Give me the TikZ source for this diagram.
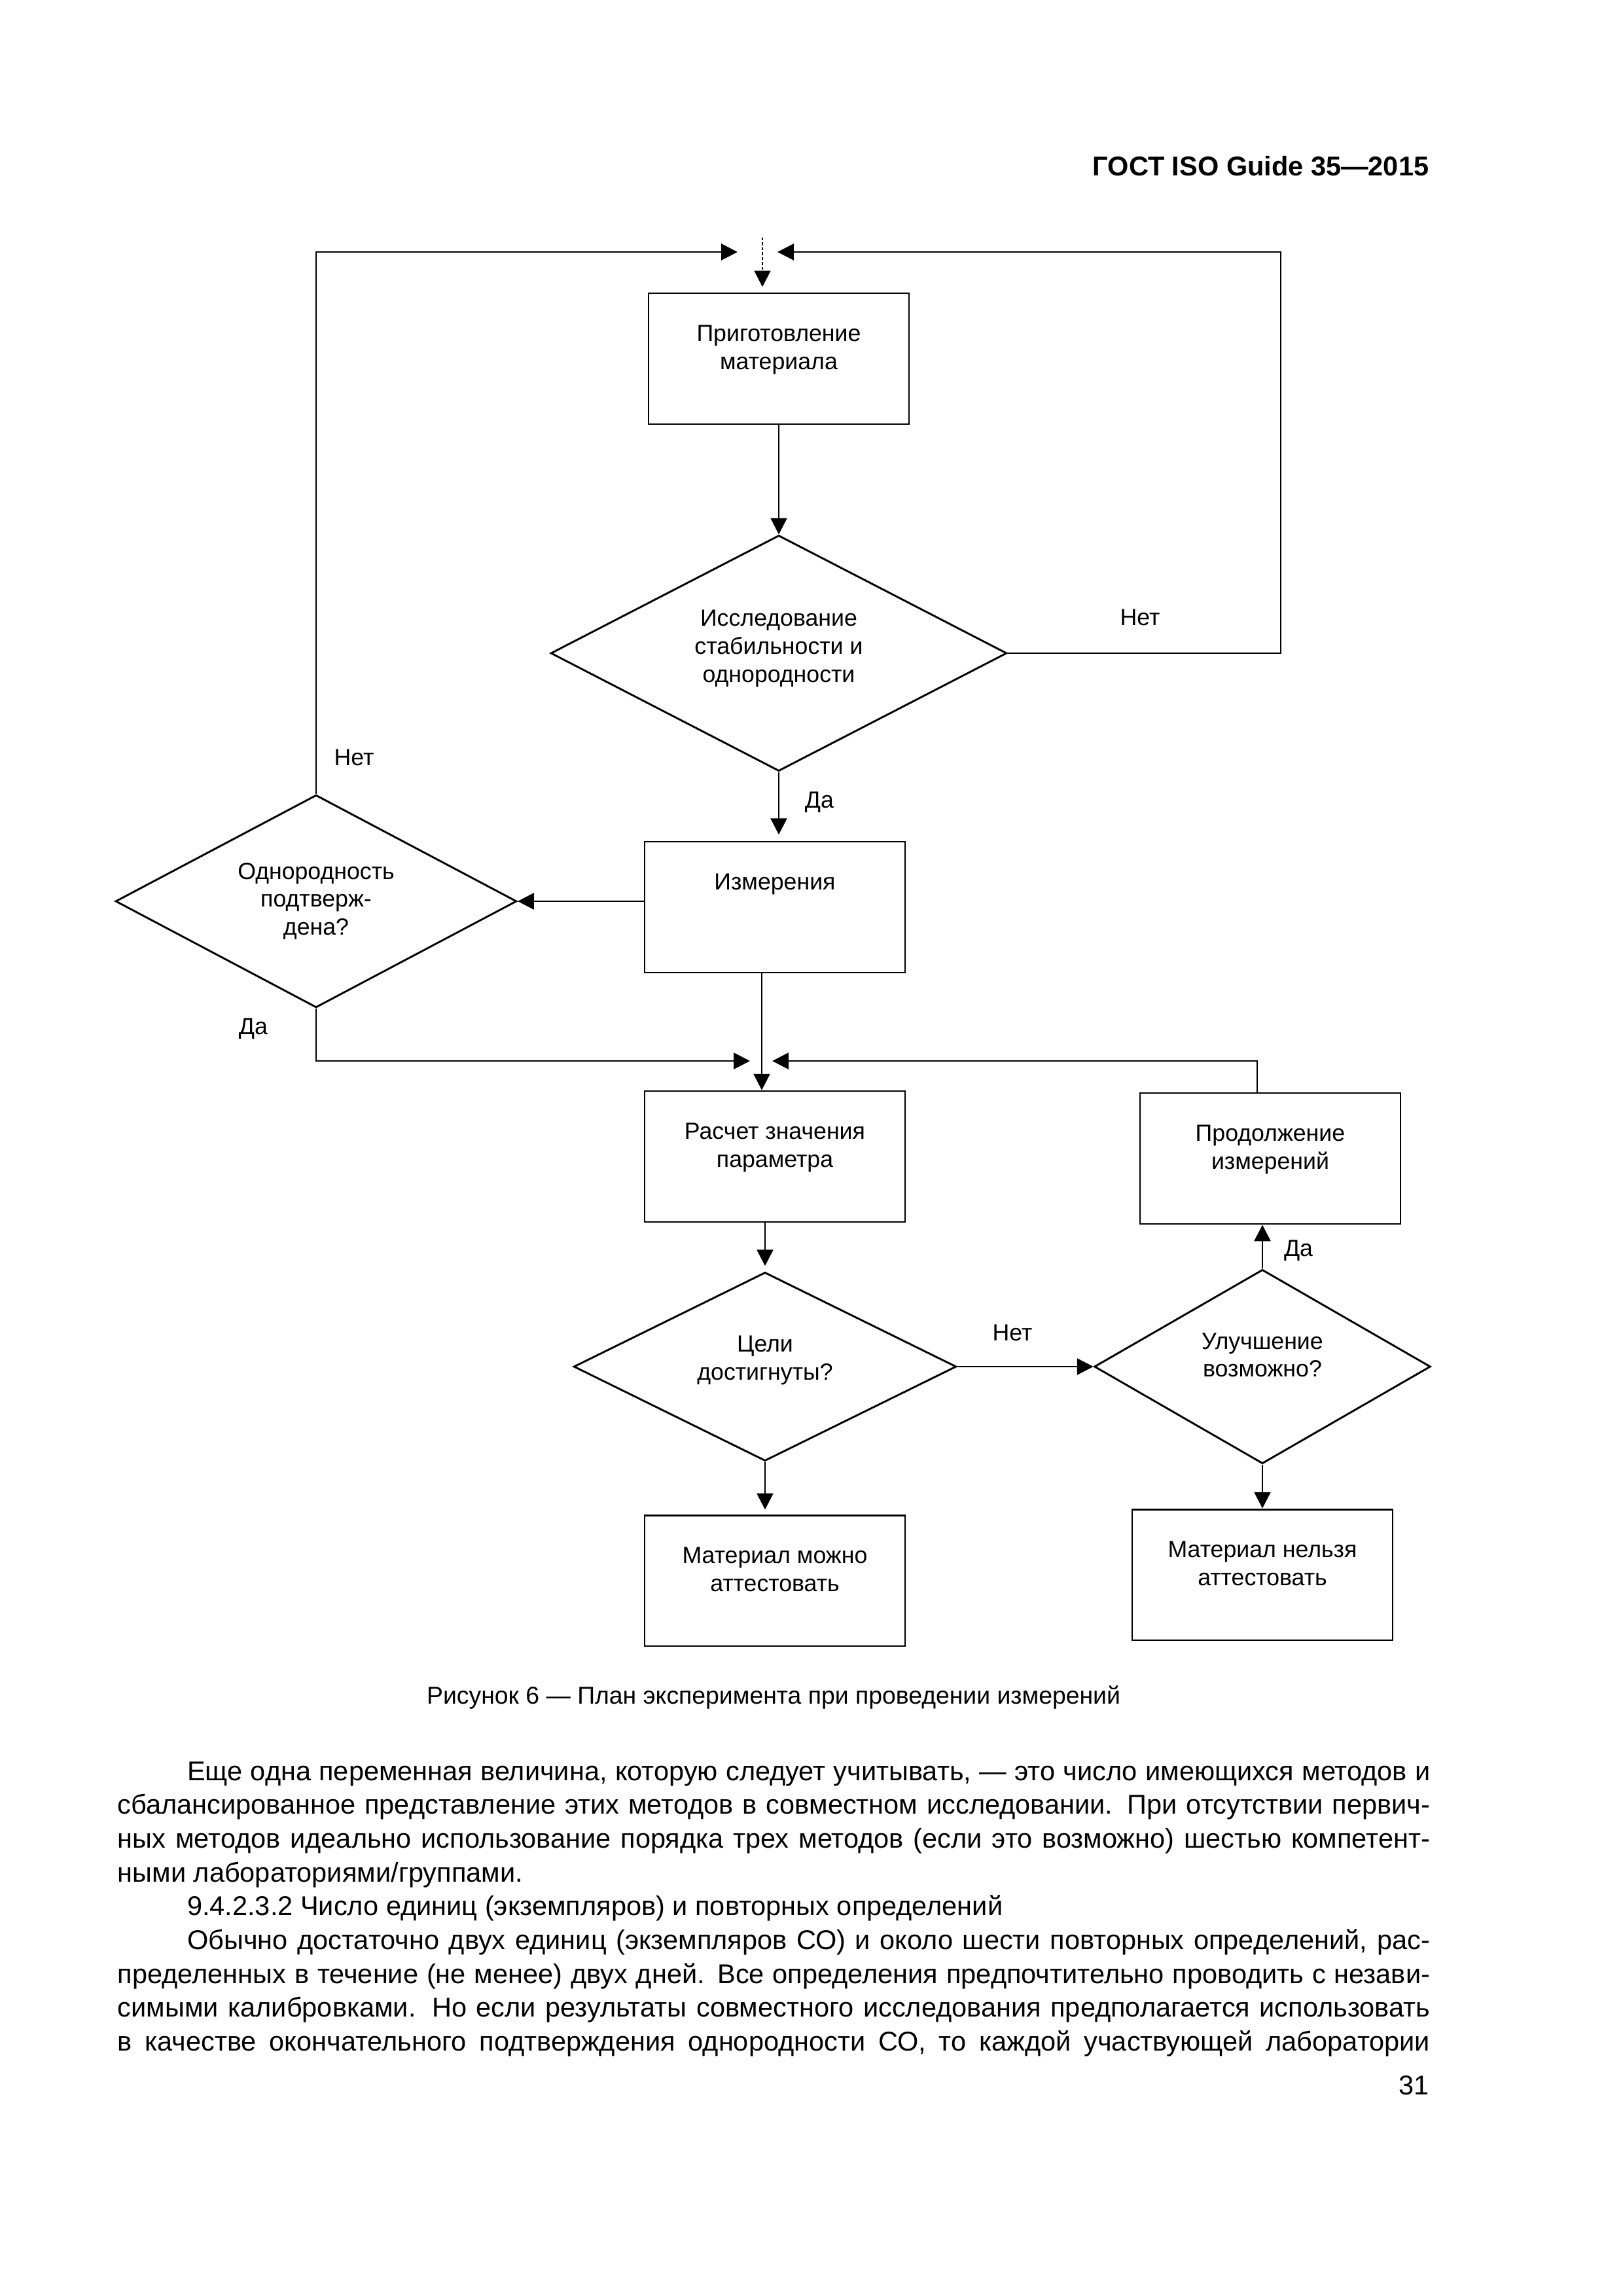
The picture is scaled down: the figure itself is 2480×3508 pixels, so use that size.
\documentclass[tikz,border=0pt]{standalone}
\usepackage{fontspec}
\setmainfont{Liberation Sans}
\usetikzlibrary{arrows.meta,shapes.geometric}

\newlength\boxw \setlength\boxw{33.7mm}
\newlength\boxh \setlength\boxh{16.93mm}
\newlength\bodyw \setlength\bodyw{169.8mm}
\newcommand\boxfont{\fontsize{8.6}{10.3}\selectfont}
\newcommand\bodyfont{\fontsize{10}{12.45}\selectfont}
\newcommand\boxtxt[1]{\parbox[c][\boxh][t]{\boxw}{\centering\rule{0pt}{6.2mm}#1}}

\tikzset{
  arr/.style={line width=0.7pt, -{Triangle[length=2.1mm,width=2.1mm]}},
  stepbox/.style={draw, line width=0.7pt, inner sep=0pt, minimum width=\boxw, minimum height=\boxh, font=\boxfont},
  decision/.style={draw, diamond, aspect=2, line width=0.7pt, inner sep=0pt},
  dtext/.style={font=\boxfont, align=center, inner sep=0pt},
  lbl/.style={font=\boxfont, inner sep=0pt},
}

\begin{document}
\begin{tikzpicture}[x=0.0846667mm, y=-0.0846667mm]
            \useasboundingbox (0,0) rectangle (2480,3508);
            % Page header
            \node[anchor=base east, inner sep=0pt, font=\bfseries\fontsize{10}{12}\selectfont] (head) at (2184,268) {ГОСТ ISO Guide 35—2015};
            % Boxes
            \node[stepbox] (prep) at (1190,548) {\boxtxt{Приготовление\\материала}};
            \node[stepbox] (meas) at (1184,1386) {\boxtxt{Измерения}};
            \node[stepbox] (calc) at (1184,1767) {\boxtxt{Расчет значения\\параметра}};
            \node[stepbox] (cont) at (1941,1770) {\boxtxt{Продолжение\\измерений}};
            \node[stepbox] (yes) at (1184,2415) {\boxtxt{Материал можно\\аттестовать}};
            \node[stepbox] (no) at (1929,2406) {\boxtxt{Материал нельзя\\аттестовать}};
            % Decisions
            \node[decision, minimum width=59mm, minimum height=30.5mm,
              label={[dtext, yshift=0.6mm]center:Исследование\\стабильности и\\однородности}] (study) at (1190,998) {};
            \node[decision, minimum width=51.9mm, minimum height=27.5mm,
              label={[dtext]center:Однородность\\подтверж-\\дена?}] (homog) at (483,1377) {};
            \node[decision, minimum width=49.5mm, minimum height=24.4mm,
              label={[dtext, yshift=0.8mm]center:Цели\\достигнуты?}] (goal) at (1169,2088) {};
            \node[decision, minimum width=43.5mm, minimum height=25.1mm,
              label={[dtext, yshift=1.5mm]center:Улучшение\\возможно?}] (impr) at (1929,2088) {};
            % Free ends of the loops
            \coordinate (entry) at (1165,363);
            \coordinate (joinL) at (1127,385);
            \coordinate (joinR) at (1188,385);
            \coordinate (turnR) at (1957,385);
            \coordinate (joinL2) at (1146,1621);
            \coordinate (joinR2) at (1180,1621);
            \coordinate (turnR2) at (1921,1621);
            \coordinate (mid2) at (1164,1621);
            % Connectors
            \draw[arr, dash pattern=on 1pt off 0.8pt, shorten >=0.7mm] (entry) -- (entry |- prep.north);
            \draw[arr] (homog.north) |- (joinL);
            \draw[arr] (study.east) -| (turnR) -- (joinR);
            \draw[arr] (prep.south) -- (study.north);
            \draw[arr, shorten >=0.8mm] (study.south) -- (study.south |- meas.north);
            \draw[arr] (meas.west |- homog.east) -- (homog.east);
            \draw[arr] (homog.south) |- (joinL2);
            \draw[arr] (cont.north -| turnR2) -- (turnR2) -- (joinR2);
            \draw[arr] (meas.south -| mid2) -- (calc.north -| mid2);
            \draw[arr, shorten >=0.7mm] (calc.south -| goal.north) -- (goal.north);
            \draw[arr, shorten >=0.6mm] (goal.south) -- (goal.south |- yes.north);
            \draw[arr] (goal.east) -- (impr.west);
            \draw[arr] (impr.north) -- (impr.north |- cont.south);
            \draw[arr] (impr.south) -- (no.north);
            % Branch labels
            \node[lbl] (noA) at (1742,943) {Нет};
            \node[lbl] (yesA) at (1252,1226) {Да};
            \node[lbl] (noB) at (541,1157) {Нет};
            \node[lbl] (yesB) at (387,1572) {Да};
            \node[lbl] (noC) at (1547,2036) {Нет};
            \node[lbl] (yesC) at (1984,1911) {Да};
            % Caption and body text
            \node[anchor=base, inner sep=0pt, font=\fontsize{9}{11}\selectfont] (cap) at (1182,2603) {Рисунок 6 — План эксперимента при проведении измерений};
            \node[anchor=base west, inner sep=0pt] (body) at (179,2720) {\vtop{\bodyfont
              \hbox to\bodyw{\hspace*{9mm}Еще одна переменная величина, которую следует учитывать, — это число имеющихся методов и}
              \hbox to\bodyw{сбалансированное представление этих методов в совместном исследовании. При отсутствии первич-}
              \hbox to\bodyw{ных методов идеально использование порядка трех методов (если это возможно) шестью компетент-}
              \hbox to\bodyw{ными лабораториями/группами.\hfil}
              \hbox to\bodyw{\hspace*{9mm}9.4.2.3.2 Число единиц (экземпляров) и повторных определений\hfil}
              \hbox to\bodyw{\hspace*{9mm}Обычно достаточно двух единиц (экземпляров СО) и около шести повторных определений, рас-}
              \hbox to\bodyw{пределенных в течение (не менее) двух дней. Все определения предпочтительно проводить с незави-}
              \hbox to\bodyw{симыми калибровками. Но если результаты совместного исследования предполагается использовать}
              \hbox to\bodyw{в качестве окончательного подтверждения однородности СО, то каждой участвующей лаборатории}}};
            \node[anchor=base east, inner sep=0pt, font=\bodyfont] (pnum) at (2184,3200) {31};
        \end{tikzpicture}
\end{document}
